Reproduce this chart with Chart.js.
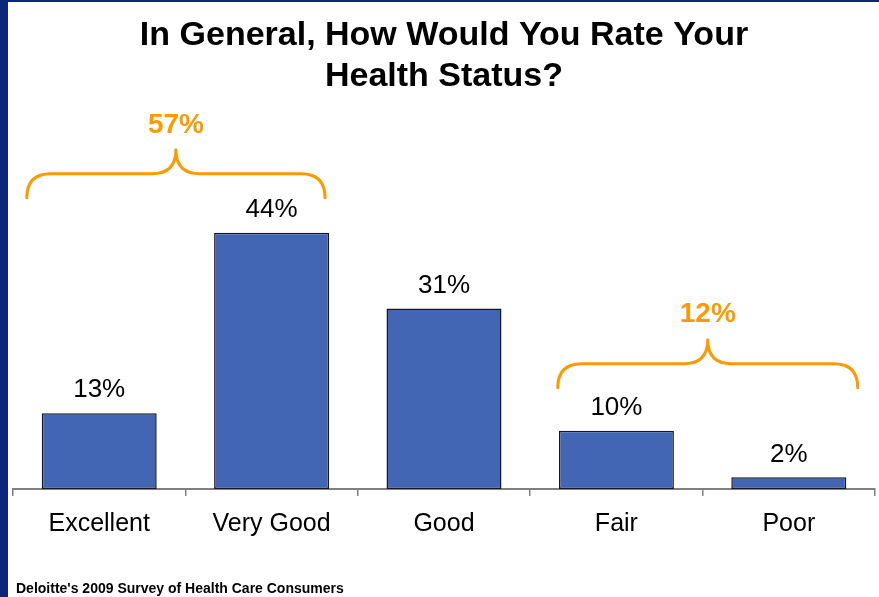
<!DOCTYPE html>
<html>
<head>
<meta charset="utf-8">
<script src="https://cdn.jsdelivr.net/npm/chart.js@4"></script>
<style>
  html, body { margin: 0; padding: 0; background: #ffffff; }
  #wrap { width: 879px; height: 597px; position: relative; }
</style>
</head>
<body>
<div id="wrap"><canvas id="c" width="879" height="597"></canvas></div>
<script>
// ---- data ----
const categories = ['Excellent', 'Very Good', 'Good', 'Fair', 'Poor'];
const values = [13, 44, 31, 10, 2];
const valueLabels = ['13%', '44%', '31%', '10%', '2%'];
// group braces (in category units and value units)
const braceLabels = ['57%', '12%'];
const braceStart = [-0.42, 2.66];
const braceEnd = [1.31, 4.40];
const braceLevel = [50, 17.4];
const titleLines = ['In General, How Would You Rate Your', 'Health Status?'];
const footerText = "Deloitte's 2009 Survey of Health Care Consumers";

const ORANGE = '#FF9900';
const NAVY = '#0c267a';
const FONT = "'Liberation Sans', Arial, sans-serif";

const deco = {
  id: 'deco',
  beforeDraw(chart) {
    const ctx = chart.ctx;
    ctx.save();
    ctx.fillStyle = '#ffffff';
    ctx.fillRect(0, 0, chart.width, chart.height);
    ctx.fillStyle = NAVY;
    ctx.fillRect(0, 0, 8, chart.height);
    ctx.fillRect(0, 0, chart.width, 2);
    ctx.restore();
  },
  afterDatasetsDraw(chart) {
    const ctx = chart.ctx;
    const meta = chart.getDatasetMeta(0);
    const xs = chart.scales.x, ys = chart.scales.y;
    ctx.save();
    // value labels
    ctx.fillStyle = '#000';
    ctx.font = '26px ' + FONT;
    ctx.textAlign = 'center';
    ctx.textBaseline = 'middle';
    meta.data.forEach((bar, i) => {
      ctx.fillText(valueLabels[i], bar.x, bar.y - 23);
    });
    // braces
    const cw = (xs.right - xs.left) / categories.length;
    const toX = v => xs.left + (v + 0.5) * cw;
    braceLabels.forEach((lab, i) => {
      const x0 = toX(braceStart[i]);
      const x1 = toX(braceEnd[i]);
      const yb = ys.getPixelForValue(braceLevel[i]);
      const r = 24;
      const ym = yb - r;
      const yt = ym - r;
      const xc = (x0 + x1) / 2;
      ctx.beginPath();
      ctx.moveTo(x0, yb);
      ctx.quadraticCurveTo(x0, ym, x0 + r, ym);
      ctx.lineTo(xc - r, ym);
      ctx.quadraticCurveTo(xc, ym, xc, yt);
      ctx.quadraticCurveTo(xc, ym, xc + r, ym);
      ctx.lineTo(x1 - r, ym);
      ctx.quadraticCurveTo(x1, ym, x1, yb);
      ctx.strokeStyle = ORANGE;
      ctx.lineWidth = 3;
      ctx.lineCap = 'round';
      ctx.lineJoin = 'round';
      ctx.stroke();
      ctx.fillStyle = ORANGE;
      ctx.font = 'bold 28px ' + FONT;
      ctx.fillText(lab, xc, yt - 25);
    });
    // footer
    ctx.fillStyle = '#000';
    ctx.font = 'bold 14px ' + FONT;
    ctx.textAlign = 'left';
    ctx.fillText(footerText, 16, 589);
    ctx.restore();
  }
};

new Chart(document.getElementById('c'), {
  type: 'bar',
  data: {
    labels: categories,
    datasets: [{
      data: values,
      backgroundColor: '#4266B4',
      borderColor: '#14182a',
      borderWidth: 1.5,
      borderSkipped: false,
      categoryPercentage: 1,
      barPercentage: 0.667
    }]
  },
  options: {
    responsive: false,
    animation: false,
    devicePixelRatio: 1,
    layout: { padding: { left: 13, right: 4, top: 0, bottom: 45 } },
    plugins: {
      legend: { display: false },
      tooltip: { enabled: false },
      title: {
        display: true,
        text: titleLines,
        color: '#000',
        font: { family: FONT, size: 34, weight: 'bold', lineHeight: 1.2 },
        padding: { top: 15, bottom: 43 }
      }
    },
    scales: {
      y: { display: false, min: 0, max: 60 },
      x: {
        border: { display: true, color: '#808080', width: 2 },
        grid: { display: true, drawOnChartArea: false, drawTicks: true, tickLength: 7, color: '#808080', lineWidth: 1.5, offset: true },
        ticks: { color: '#000', font: { family: FONT, size: 25 }, padding: 13, maxRotation: 0, autoSkip: false }
      }
    }
  },
  plugins: [deco]
});
</script>
</body>
</html>
